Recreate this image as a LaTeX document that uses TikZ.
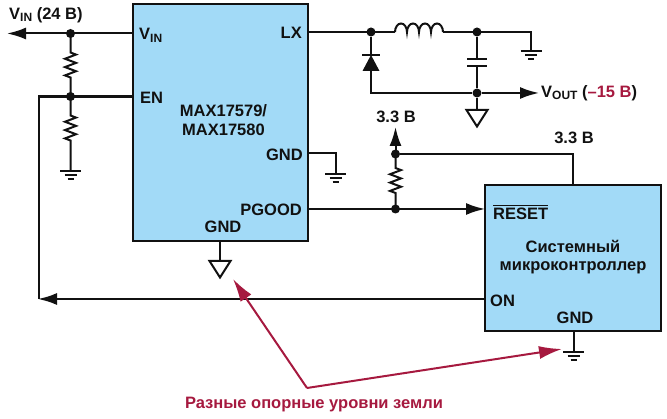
\documentclass[tikz,border=0pt]{standalone}
\usepackage{amsmath}
\usepackage{fontspec}
\setmainfont{Liberation Sans}
\usetikzlibrary{arrows.meta,decorations.pathmorphing}
\definecolor{chipblue}{HTML}{A2DAF7}
\definecolor{notered}{HTML}{A6193F}
\definecolor{inkblack}{HTML}{111111}
\newcommand{\subpin}[1]{\raisebox{-2.5pt}{\fontsize{12}{12}\selectfont #1}}

\tikzset{
  earth/.pic={
    \draw[wire] (-10.5,0) -- (10.5,0);
    \draw[wire] (-6,4.5) -- (6,4.5);
    \draw[wire] (-3,8.5) -- (3,8.5);
  },
  chassis/.pic={
    \draw[wire,fill=white,line join=miter] (-10.5,0) -- (10.5,0) -- (0,16.5) -- cycle;
  }
}

\begin{document}
\begin{tikzpicture}
[x=1pt, y=-1pt, font=\bfseries\fontsize{16.5}{18}\selectfont, text=inkblack,
  wire/.style={draw=inkblack, line width=2pt},
  heavy/.style={draw=inkblack, line width=2.8pt},
  chip/.style={draw=inkblack, fill=chipblue, line width=2.5pt, inner sep=0pt, outer sep=0pt, anchor=north west},
  dot/.style={circle, fill=inkblack, inner sep=0pt, minimum size=9pt},
  pin/.style={inner sep=0pt, anchor=west},
  rpin/.style={inner sep=0pt, anchor=east},
  label/.style={inner sep=0pt},
  res/.style={wire, decoration={zigzag, segment length=8.33pt, amplitude=5.5pt, pre length=19pt, post length=19pt}, decorate},
  flow/.style={-{Latex[length=19pt, width=12pt]}},
  note/.style={draw=notered, line width=2pt, -{Latex[length=23pt, width=13pt]}, line join=miter}]
  \useasboundingbox (0,0) rectangle (667,419);

  % the two chips
  \node[chip, minimum width=175pt, minimum height=237pt] (reg) at (133,4) {};
  \node[chip, minimum width=176pt, minimum height=146pt] (mcu) at (485,185) {};

  % pin labels of the regulator
  \node[pin] (vinpin) at (139,35.5) {V\subpin{IN}};
  \node[rpin] (lxpin) at (302,33) {LX};
  \node[pin] (enpin) at (140,97.5) {EN};
  \node[label] (regname) at (223.5,122.5) {\begin{tabular}{@{}c@{}}MAX17579/\\[1pt]MAX17580\end{tabular}};
  \node[rpin] (gndpin) at (303,155) {GND};
  \node[rpin] (pgoodpin) at (302,210) {PGOOD};
  \node[label] (gndlow) at (223,227) {GND};

  % pin labels of the controller
  \node[pin] (resetpin) at (493,212) {$\overline{\text{RESET}}$};
  \node[label] (mcuname) at (573,258) {\begin{tabular}{@{}c@{}}Системный\\микроконтроллер\end{tabular}};
  \node[pin] (onpin) at (490,301) {ON};
  \node[label] (mcugnd) at (575,318) {GND};

  % outer labels
  \node[pin] (vinlabel) at (9,15) {V\subpin{IN} (24 B)};
  \node[pin] (voutlabel) at (541,93) {V\subpin{OUT} (\textcolor{notered}{–15 B})};
  \node[label] (railone) at (396,117) {3.3 B};
  \node[label] (railtwo) at (574,138) {3.3 B};
  \node[label, text=notered] (notelabel) at (314,405) {Разные опорные уровни земли};

  % junctions
  \node[dot] (vinj) at (70.5,33.5) {};
  \node[dot] (enj) at (70.5,96.5) {};
  \node[dot] (lxj) at (371,32) {};
  \node[dot] (capj) at (477,32) {};
  \node[dot] (outj) at (477,93) {};
  \node[dot] (railj) at (395.5,154) {};
  \node[dot] (pgoodj) at (395.5,209) {};

  % free ends and corners
  \coordinate (vinend) at (7,33.5);
  \coordinate (vinpad) at (133,33.5);
  \coordinate (enpad) at (133,96.5);
  \coordinate (encorner) at (39,96.5);
  \coordinate (onend) at (38,299);
  \coordinate (oncorner) at (39,299);
  \coordinate (onpad) at (485,299);
  \coordinate (lowgnd) at (70.5,171);
  \coordinate (lxpad) at (308,32);
  \coordinate (indleft) at (395,32);
  \coordinate (indright) at (443,32);
  \coordinate (outcorner) at (371,93);
  \coordinate (diodetop) at (371,55);
  \coordinate (diodebase) at (371,71);
  \coordinate (capgnd) at (531,51);
  \coordinate (capcorner) at (531,32);
  \coordinate (captop) at (477,59);
  \coordinate (capbot) at (477,66);
  \coordinate (outend) at (539,93);
  \coordinate (outgnd) at (477,110);
  \coordinate (gndpad) at (308,153);
  \coordinate (gndcorner) at (335.5,153);
  \coordinate (gndend) at (335.5,174);
  \coordinate (pgoodpad) at (308,209);
  \coordinate (resetend) at (485,209);
  \coordinate (railtip) at (395.5,127);
  \coordinate (railcorner) at (573,154);
  \coordinate (railpad) at (573,185);
  \coordinate (reggnd) at (220,241);
  \coordinate (reggndend) at (220,261);
  \coordinate (mcugndpad) at (573.5,331);
  \coordinate (mcugndend) at (573.5,352);
  \coordinate (notecorner) at (307,388);
  \coordinate (notetipa) at (233,279);
  \coordinate (notetipb) at (562,349);

  % input side
  \draw[wire, flow] (vinpad) -- (vinend);
  \draw[res] (vinj.center) -- (enj.center);
  \draw[res, decoration={post length=30pt}] (enj.center) -- (lowgnd);
  \draw[heavy] (enpad) -- (encorner) -- (oncorner);
  \draw[wire, flow] (onpad) -- (onend);
  \pic at (lowgnd) {earth};

  % buck stage
  \draw[wire] (lxpad) -- (indleft);
  \draw[wire] (indleft) \foreach \k in {1,...,4} {arc[start angle=180, end angle=0, x radius=6pt, y radius=8.5pt]};
  \draw[wire] (indright) -- (capcorner) -- (capgnd);
  \pic at (capgnd) {earth};
  \draw[wire] (lxj) -- (diodetop);
  \draw[wire] (diodebase) -- (outcorner) -- (outj);
  \draw[fill=inkblack, draw=none] (diodetop) -- ++(8.5,16) -- ++(-17,0) -- cycle;
  \draw[wire] (362,55) coordinate (barleft) -- (380,55) coordinate (barright);
  \draw[wire] (capj) -- (captop);
  \draw[wire] (467,59) coordinate (plateal) -- (487,59) coordinate (platear);
  \draw[wire] (467,66) coordinate (platebl) -- (487,66) coordinate (platebr);
  \draw[wire] (capbot) -- (outj);
  \draw[wire, flow] (outj) -- (outend);
  \draw[wire] (outj) -- (outgnd);
  \pic at (outgnd) {chassis};

  % regulator grounds
  \draw[wire] (gndpad) -- (gndcorner) -- (gndend);
  \pic at (gndend) {earth};
  \draw[wire] (reggnd) -- (reggndend);
  \pic at (reggndend) {chassis};

  % power good and pull-up
  \draw[wire, flow] (pgoodpad) -- (resetend);
  \draw[res, decoration={pre length=16pt, post length=14pt}] (pgoodj.center) -- (railj.center);
  \draw[wire, flow] (railj.center) -- (railtip);
  \draw[wire] (railj) -- (railcorner) -- (railpad);

  % controller ground
  \draw[wire] (mcugndpad) -- (mcugndend);
  \pic at (mcugndend) {earth};

  % callout
  \draw[note] (notecorner) -- (notetipa);
  \draw[note] (notecorner) -- (notetipb);
\end{tikzpicture}
\end{document}
